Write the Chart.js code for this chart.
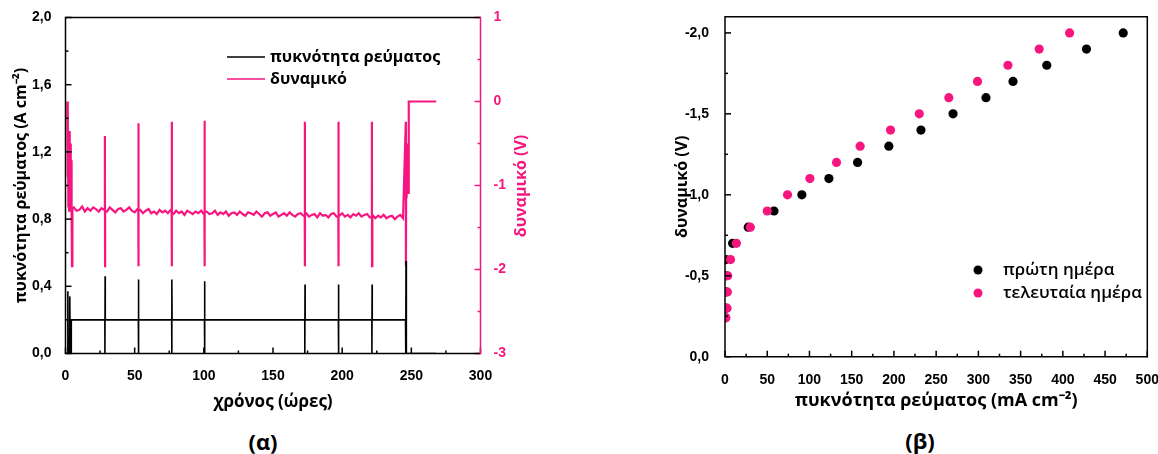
<!DOCTYPE html>
<html lang="el">
<head>
<meta charset="UTF-8">
<title>Χρονοαμπερομετρία και καμπύλες πόλωσης</title>
<style>
  body { margin: 0; background: #fff; width: 1158px; height: 454px; position: relative; overflow: hidden; }
  canvas { position: absolute; top: 0; }
  #chartA { left: 0; }
  #chartB { left: 640px; }
  .panel { position: absolute; font: bold 22px "Open Sans", sans-serif; transform: translate(-50%, -50%); color: #000; }
</style>
</head>
<body>
<canvas id="chartA" width="540" height="415"></canvas>
<canvas id="chartB" width="530" height="420"></canvas>
<div class="panel" style="left:263px; top:441px">(α)</div>
<div class="panel" style="left:920px; top:440px">(β)</div>

<script src="https://cdn.jsdelivr.net/npm/chart.js"></script>
<script>
    const PINK = '#f7167f';
    const BLACK = '#000';
    const X_TICK_FONT = { family: '"Liberation Sans", Arial, sans-serif', size: 14, weight: 'bold' };
    const Y_TICK_FONT = { family: '"Liberation Sans", Arial, sans-serif', size: 14, weight: 'bold' };
    const TITLE_FONT = { family: '"Open Sans", sans-serif', size: 16, weight: 'bold' };

    // ---------- (α) σταθερότητα στο χρόνο ----------
    const timeTicks = [0, 50, 100, 150, 200, 250, 300];
    const currentTicks = [0, 0.4, 0.8, 1.2, 1.6, 2.0];
    const potentialTicks = [-3, -2, -1, 0, 1];

    // πυκνότητα ρεύματος (A cm-2)
    const currentHold = 0.2;
    const holdFrom = 4.2, holdTo = 245.8;
    const startCurT = [0, 1.4, 1.7, 2.0, 2.8, 3.1, 3.4, 4.1];
    const startCurJ = [0, 0, 0.37, 0, 0, 0.34, 0, 0];
    const endCurT = [246, 246.15, 246.4, 268];
    const endCurJ = [0, 0.55, 0, 0];

    // διακοπές για καμπύλες πόλωσης
    const spikeTimes = [28.5, 52.7, 76.8, 100.5, 173, 197.3, 221.5];
    const spikeCurrent = [0.46, 0.44, 0.44, 0.43, 0.41, 0.41, 0.41];
    const spikeOcv = [-0.41, -0.26, -0.24, -0.23, -0.24, -0.24, -0.24];
    const spikeLow = [-1.96, -1.96, -1.96, -1.96, -1.96, -1.96, -1.96];

    // δυναμικό (V)
    const startPotT = [1.3, 1.5, 1.8, 2.1, 2.3, 2.6, 2.9, 3.2, 3.5, 3.8, 4.1, 4.4, 4.7, 5.0];
    const startPotV = [0, -0.9, -0.2, -1.25, -0.45, -1.3, -0.35, -1.1, -0.5, -1.28, -0.7, -1.3, -1.96, -1.27];
    const potStart = 6, potStep = 2; // one reading every 2 h
    const potReadings = [
        -1.26, -1.30, -1.29, -1.25, -1.31, -1.27, -1.30, -1.26, -1.28, -1.31, -1.27, -1.29,
        -1.31, -1.26, -1.29, -1.32, -1.28, -1.27, -1.31, -1.29, -1.26, -1.30, -1.32, -1.28,
        -1.29, -1.33, -1.30, -1.28, -1.33, -1.31, -1.34, -1.29, -1.32, -1.30, -1.33, -1.29,
        -1.34, -1.30, -1.33, -1.31, -1.35, -1.30, -1.32, -1.34, -1.31, -1.33, -1.30, -1.34,
        -1.31, -1.34, -1.33, -1.30, -1.35, -1.32, -1.34, -1.31, -1.36, -1.33, -1.32, -1.35,
        -1.31, -1.34, -1.36, -1.32, -1.33, -1.35, -1.31, -1.34, -1.37, -1.33, -1.32, -1.36,
        -1.34, -1.32, -1.37, -1.35, -1.33, -1.36, -1.32, -1.35, -1.37, -1.34, -1.33, -1.36,
        -1.33, -1.37, -1.35, -1.34, -1.38, -1.33, -1.36, -1.35, -1.38, -1.34, -1.33, -1.37,
        -1.36, -1.33, -1.37, -1.35, -1.38, -1.34, -1.36, -1.33, -1.37, -1.35, -1.34, -1.38,
        -1.35, -1.39, -1.36, -1.38, -1.35, -1.39, -1.37, -1.36, -1.40, -1.37, -1.35, -1.39
    ];
    const endPotT = [246, 246.1, 246.3, 246.6, 246.9, 247.2, 247.6, 248.0, 248.3, 268];
    const endPotV = [-0.24, -1.96, -0.7, -1.15, -0.5, -1.0, -0.85, -1.1, 0, 0];

    // ---------- (β) καμπύλες πόλωσης ----------
    const ivCurrentTicks = [0, 50, 100, 150, 200, 250, 300, 350, 400, 450, 500];
    const ivPotentialTicks = [0, -0.5, -1.0, -1.5, -2.0];
    const ivPotential = [-0.24, -0.3, -0.4, -0.5, -0.6, -0.7, -0.8, -0.9, -1.0, -1.1, -1.2, -1.3, -1.4, -1.5, -1.6, -1.7, -1.8, -1.9, -2.0];
    const firstDayJ = [0.5, 0.8, 1, 1.5, 1, 9, 27.5, 58, 91, 123, 157, 194, 232, 270, 309, 341, 381, 428, 471.5];
    const lastDayJ = [1, 2.4, 2.8, 3.2, 6.5, 13.5, 30, 50, 74, 100.5, 132, 160, 196, 230, 265, 299, 335, 372, 408];

    // --- σειρές (α) ---
    const currentPts = startCurT.map((t, i) => ({ x: t, y: startCurJ[i] }));
    currentPts.push({ x: holdFrom, y: currentHold });
    spikeTimes.forEach((t, i) => {
        currentPts.push({ x: t - 0.05, y: currentHold }, { x: t, y: 0 },
                        { x: t + 0.15, y: spikeCurrent[i] }, { x: t + 0.25, y: currentHold });
    });
    currentPts.push({ x: holdTo, y: currentHold });
    endCurT.forEach((t, i) => currentPts.push({ x: t, y: endCurJ[i] }));

    // the spike keeps the neighbouring readings so the jump is drawn straight up and down
    const potentialPts = startPotT.map((t, i) => ({ x: t, y: startPotV[i] }));
    let k = 0;
    potReadings.forEach((v, i) => {
        const t = potStart + i * potStep;
        while (k < spikeTimes.length && spikeTimes[k] < t) {
            const ts = spikeTimes[k];
            potentialPts.push({ x: ts - 0.05, y: potReadings[i - 1] },
                              { x: ts, y: spikeOcv[k] }, { x: ts + 0.1, y: spikeLow[k] },
                              { x: ts + 0.15, y: v });
            k++;
        }
        potentialPts.push({ x: t, y: v });
    });
    endPotT.forEach((t, i) => potentialPts.push({ x: t, y: endPotV[i] }));

    const comma = v => Number(v).toFixed(1).replace('.', ',');
    const fixTicks = arr => scale => { scale.ticks = arr.map(v => ({ value: v })); };

    // πλαίσιο, εσωτερικές υποδιαιρέσεις, υπόμνημα
    const framePlugin = {
        id: 'frame',
        afterDraw(chart, args, o) {
            const ctx = chart.ctx, a = chart.chartArea;
            ctx.save();
            ctx.lineWidth = 1.5;
            Object.values(chart.scales).forEach(s => {
                const vals = s.ticks.map(t => t.value);
                ctx.strokeStyle = s.options.ticks.color;
                const mark = (v, len) => {
                    const p = s.getPixelForValue(v);
                    ctx.beginPath();
                    if (s.position === 'bottom') { ctx.moveTo(p, a.bottom); ctx.lineTo(p, a.bottom - len); }
                    else if (s.position === 'left') { ctx.moveTo(a.left, p); ctx.lineTo(a.left + len, p); }
                    else { ctx.moveTo(a.right, p); ctx.lineTo(a.right - len, p); }
                    ctx.stroke();
                };
                vals.forEach((v, i) => { mark(v, 6); if (i) mark((v + vals[i - 1]) / 2, 3); });
            });
            ctx.strokeStyle = BLACK;
            ctx.beginPath();
            ctx.moveTo(a.right, a.top); ctx.lineTo(a.left, a.top);
            ctx.lineTo(a.left, a.bottom); ctx.lineTo(a.right, a.bottom);
            ctx.stroke();
            ctx.strokeStyle = o.rightColor;
            ctx.beginPath(); ctx.moveTo(a.right, a.top - 0.75); ctx.lineTo(a.right, a.bottom + 0.75); ctx.stroke();

            const L = o.legend;
            ctx.font = L.font;
            ctx.textBaseline = 'middle';
            chart.data.datasets.forEach((ds, i) => {
                const y = L.y + i * L.dy;
                const col = ds.borderColor;
                if (L.marker === 'line') {
                    ctx.strokeStyle = col; ctx.lineWidth = 1.5;
                    ctx.beginPath(); ctx.moveTo(L.x1, y); ctx.lineTo(L.x2, y); ctx.stroke();
                } else {
                    ctx.fillStyle = col;
                    ctx.beginPath(); ctx.arc(L.x1, y, 4.5, 0, Math.PI * 2); ctx.fill();
                }
                ctx.fillStyle = BLACK;
                ctx.fillText(ds.label, L.textX, y);
            });

            if (o.rightTitle) {
                const r = o.rightTitle;
                ctx.translate(r.x, r.y);
                ctx.rotate(-Math.PI / 2);
                ctx.fillStyle = r.color;
                ctx.font = r.font;
                ctx.textAlign = 'center';
                ctx.fillText(r.text, 0, 0);
            }
            ctx.restore();
        }
    };

    // ---------- γράφημα (α) ----------
    new Chart(document.getElementById('chartA'), {
        type: 'line',
        data: {
            datasets: [
                { label: 'πυκνότητα ρεύματος', data: currentPts, yAxisID: 'y', borderColor: BLACK, borderWidth: 1.6, pointRadius: 0, tension: 0 },
                { label: 'δυναμικό', data: potentialPts, yAxisID: 'y1', borderColor: PINK, borderWidth: 2.2, pointRadius: 0, tension: 0 }
            ]
        },
        options: {
            responsive: false,
            animation: false,
            events: [],
            layout: { padding: { top: 17.5, left: 0, right: 0, bottom: 0 } },
            plugins: {
                legend: { display: false },
                tooltip: { enabled: false },
                frame: {
                    rightColor: PINK,
                    legend: { marker: 'line', x1: 227, x2: 265, textX: 270, y: 57, dy: 22, font: 'bold 16px "Open Sans", sans-serif' },
                    rightTitle: { text: 'δυναμικό (V)', x: 521, y: 186, color: PINK, font: 'bold 16px "Open Sans", sans-serif' }
                }
            },
            scales: {
                x: {
                    type: 'linear', min: 0, max: 300,
                    afterBuildTicks: fixTicks(timeTicks),
                    afterFit: s => { s.height = 61.5; },
                    grid: { display: false }, border: { display: false },
                    ticks: { color: BLACK, font: X_TICK_FONT, padding: 6, maxRotation: 0, autoSkip: false },
                    title: { display: true, text: 'χρόνος (ώρες)', color: BLACK, font: { ...TITLE_FONT, size: 17 }, padding: { top: 0, bottom: 3 } }
                },
                y: {
                    position: 'left', min: 0, max: 2,
                    afterBuildTicks: fixTicks(currentTicks),
                    afterFit: s => { s.width = 65.5; },
                    grid: { display: false }, border: { display: false },
                    ticks: { color: BLACK, font: Y_TICK_FONT, padding: 6, callback: comma },
                    title: { display: true, text: 'πυκνότητα ρεύματος (A cm⁻²)', color: BLACK, font: TITLE_FONT, padding: { top: 12, bottom: 0 } }
                },
                y1: {
                    position: 'right', min: -3, max: 1,
                    afterBuildTicks: fixTicks(potentialTicks),
                    afterFit: s => { s.width = 59.5; },
                    grid: { display: false }, border: { display: false },
                    ticks: { color: PINK, font: Y_TICK_FONT, padding: 5, callback: v => String(v) }
                }
            }
        },
        plugins: [framePlugin]
    });

    // ---------- γράφημα (β) ----------
    new Chart(document.getElementById('chartB'), {
        type: 'scatter',
        data: {
            datasets: [
                { label: 'πρώτη ημέρα', data: firstDayJ.map((j, i) => ({ x: j, y: ivPotential[i] })),
                  backgroundColor: BLACK, borderColor: BLACK, pointRadius: 4.6, pointBorderWidth: 0, order: 1 },
                { label: 'τελευταία ημέρα', data: lastDayJ.map((j, i) => ({ x: j, y: ivPotential[i] })),
                  backgroundColor: PINK, borderColor: PINK, pointRadius: 4.6, pointBorderWidth: 0, order: 0 }
            ]
        },
        options: {
            responsive: false,
            animation: false,
            events: [],
            layout: { padding: { top: 16.7, left: 0, right: 22.7, bottom: 0 } },
            plugins: {
                legend: { display: false },
                tooltip: { enabled: false },
                frame: {
                    rightColor: BLACK,
                    legend: { marker: 'dot', x1: 338, textX: 363, y: 270, dy: 23, font: '600 17px "Open Sans", sans-serif' }
                }
            },
            scales: {
                x: {
                    type: 'linear', min: 0, max: 500,
                    afterBuildTicks: fixTicks(ivCurrentTicks),
                    afterFit: s => { s.height = 63.3; },
                    grid: { display: false }, border: { display: false },
                    ticks: { color: BLACK, font: X_TICK_FONT, padding: 7, maxRotation: 0, autoSkip: false },
                    title: { display: true, text: 'πυκνότητα ρεύματος (mA cm⁻²)', color: BLACK, font: { ...TITLE_FONT, size: 18 }, padding: { top: 0, bottom: 8 } }
                },
                y: {
                    position: 'left', min: -2.1, max: 0, reverse: true,
                    afterBuildTicks: fixTicks(ivPotentialTicks),
                    afterFit: s => { s.width = 85; },
                    grid: { display: false }, border: { display: false },
                    ticks: { color: BLACK, font: Y_TICK_FONT, padding: 8, callback: comma },
                    title: { display: true, text: 'δυναμικό (V)', color: BLACK, font: TITLE_FONT, padding: { top: 33, bottom: 0 } }
                }
            }
        },
        plugins: [framePlugin]
    });
</script>
</body>
</html>
